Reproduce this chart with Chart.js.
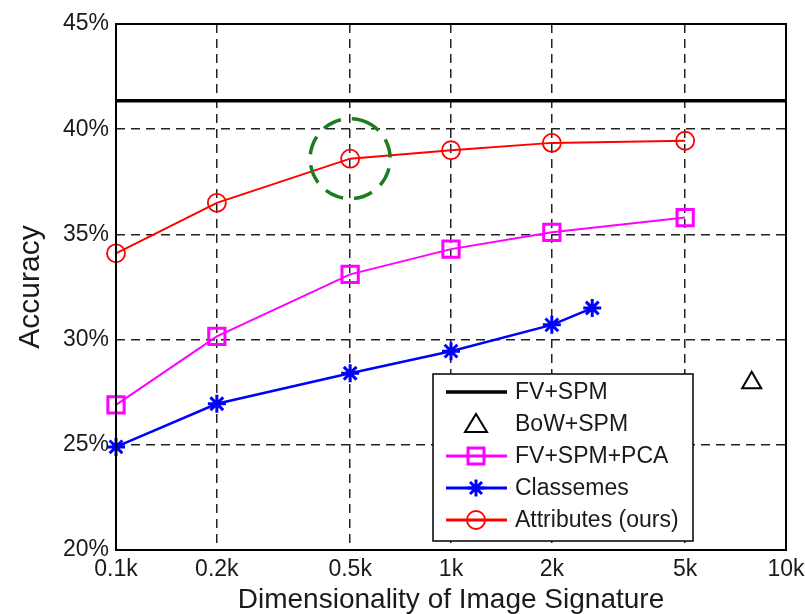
<!DOCTYPE html>
<html>
<head>
<meta charset="utf-8">
<script src="https://cdn.jsdelivr.net/npm/chart.js@4.4.1/dist/chart.umd.min.js"></script>
<style>
  body { margin: 0; background: #fff; }
  canvas { display: block; }
</style>
</head>
<body>
<canvas id="acc_chart" width="805" height="614"></canvas>
<script>
// values
var xTicks = [100, 200, 500, 1000, 2000, 5000, 10000];
var xTickLabels = ['0.1k', '0.2k', '0.5k', '1k', '2k', '5k', '10k'];
var yTicks = [20, 25, 30, 35, 40, 45];

var dims = [100, 200, 500, 1000, 2000, 5000];
var attributes = [34.1, 36.5, 38.6, 39.0, 39.35, 39.45];
var fvSpmPca = [26.9, 30.15, 33.1, 34.3, 35.1, 35.8];

var classemesDims = [100, 200, 500, 1000, 2000, 2640];
var classemes = [24.9, 26.95, 28.4, 29.45, 30.7, 31.5];

var fvSpmDims = [100, 10000];
var fvSpm = [41.35, 41.35];

var bowSpmDims = [7900];
var bowSpm = [27.95];

var highlightDim = 500;
var highlightAcc = 38.6;

var seriesLabels = ['FV+SPM', 'BoW+SPM', 'FV+SPM+PCA', 'Classemes', 'Attributes (ours)'];

var FONT = "'Liberation Sans', Arial, sans-serif";

function pts(xs, ys){
    var out = [];
    for(var i = 0; i < xs.length; i++){
        out.push({x: xs[i], y: ys[i]});
    }
    return out;
}

// little marker painter for the legend
function drawMarker(ctx, style, x, y, color){
    ctx.save();
    ctx.strokeStyle = color;
    ctx.beginPath();
    if(style == 'circle'){
        ctx.lineWidth = 1.8;
        ctx.arc(x, y, 9, 0, Math.PI * 2);
    } else if(style == 'rect'){
        ctx.lineWidth = 3;
        ctx.rect(x - 8, y - 8, 16, 16);
    } else if(style == 'star'){
        ctx.lineWidth = 3;
        var r = 8.5;
        ctx.moveTo(x, y - r); ctx.lineTo(x, y + r);
        ctx.moveTo(x - r, y); ctx.lineTo(x + r, y);
        var d = r * 0.707;
        ctx.moveTo(x - d, y - d); ctx.lineTo(x + d, y + d);
        ctx.moveTo(x - d, y + d); ctx.lineTo(x + d, y - d);
    } else if(style == 'triangle'){
        ctx.lineWidth = 2;
        ctx.moveTo(x, y - 10);
        ctx.lineTo(x + 11, y + 8);
        ctx.lineTo(x - 11, y + 8);
        ctx.closePath();
    }
    ctx.stroke();
    ctx.restore();
}

var framePlugin = {
    id: 'frame',
    afterDatasetsDraw: function(chart){
        var ctx = chart.ctx;
        var a = chart.chartArea;
        var xs = chart.scales.x, ys = chart.scales.y;

        // box round the plot
        ctx.save();
        ctx.strokeStyle = '#000';
        ctx.lineWidth = 2;
        ctx.strokeRect(a.left, a.top, a.right - a.left, a.bottom - a.top);
        ctx.restore();

        // dashed green ring on the 0.5k point
        var cx = xs.getPixelForValue(highlightDim);
        var cy = ys.getPixelForValue(highlightAcc);
        ctx.save();
        ctx.strokeStyle = '#1b7d1b';
        ctx.lineWidth = 3.5;
        ctx.setLineDash([19, 11]);
        ctx.beginPath();
        ctx.arc(cx, cy, 40, -Math.PI * 0.4, Math.PI * 1.6);
        ctx.stroke();
        ctx.restore();

        // legend box
        var lx = a.right - 353, ly = a.bottom - 176, lw = 260, lh = 167;
        ctx.save();
        ctx.fillStyle = '#fff';
        ctx.fillRect(lx, ly, lw, lh);
        ctx.strokeStyle = '#000';
        ctx.lineWidth = 1.5;
        ctx.strokeRect(lx, ly, lw, lh);
        var markers = [null, 'triangle', 'rect', 'star', 'circle'];
        var colors = ['#000', '#000', '#ff00ff', '#0000ff', '#ff0000'];
        var lines = [true, false, true, true, true];
        ctx.font = '23px ' + FONT;
        ctx.textBaseline = 'middle';
        ctx.textAlign = 'left';
        for(var i = 0; i < seriesLabels.length; i++){
            var ry = ly + 18 + i * 32;
            if(lines[i]){
                ctx.strokeStyle = colors[i];
                ctx.lineWidth = i == 0 ? 3.5 : 3;
                ctx.beginPath();
                ctx.moveTo(lx + 13, ry);
                ctx.lineTo(lx + 74, ry);
                ctx.stroke();
            }
            if(markers[i]){
                drawMarker(ctx, markers[i], lx + 43, ry, colors[i]);
            }
            ctx.fillStyle = '#1a1a1a';
            ctx.fillText(seriesLabels[i], lx + 82, ry + 1);
        }
        ctx.restore();
    }
};

var ctx = document.getElementById('acc_chart');

var acc_chart = new Chart(ctx, {
    type: 'line',
    data: {
        datasets: [
            {
                label: seriesLabels[0],
                data: pts(fvSpmDims, fvSpm),
                borderColor: '#000',
                borderWidth: 3.5,
                pointRadius: 0
            },
            {
                label: seriesLabels[1],
                data: pts(bowSpmDims, bowSpm),
                showLine: false,
                pointStyle: 'triangle',
                pointRadius: 11,
                borderColor: '#000',
                backgroundColor: 'rgba(0,0,0,0)',
                borderWidth: 2
            },
            {
                label: seriesLabels[2],
                data: pts(dims, fvSpmPca),
                borderColor: '#ff00ff',
                borderWidth: 2,
                pointStyle: 'rect',
                pointRadius: 11.5,
                pointBorderWidth: 3,
                backgroundColor: 'rgba(0,0,0,0)'
            },
            {
                label: seriesLabels[3],
                data: pts(classemesDims, classemes),
                borderColor: '#0000ff',
                borderWidth: 2.5,
                pointStyle: 'star',
                pointRadius: 9,
                pointBorderWidth: 3,
                backgroundColor: 'rgba(0,0,0,0)'
            },
            {
                label: seriesLabels[4],
                data: pts(dims, attributes),
                borderColor: '#ff0000',
                borderWidth: 2,
                pointStyle: 'circle',
                pointRadius: 9,
                pointBorderWidth: 1.8,
                backgroundColor: 'rgba(0,0,0,0)'
            }
        ]
    },
    options: {
        responsive: false,
        animation: false,
        clip: false,
        layout: { padding: { top: 24, right: 19, left: 0, bottom: 0 } },
        plugins: {
            legend: { display: false },
            tooltip: { enabled: false }
        },
        elements: { line: { tension: 0 } },
        scales: {
            x: {
                type: 'logarithmic',
                min: 100,
                max: 10000,
                afterBuildTicks: function(scale){
                    scale.ticks = xTicks.map(function(v){ return {value: v}; });
                },
                afterFit: function(scale){
                    scale.height = 64;
                    scale.paddingLeft = 0;
                    scale.paddingRight = 0;
                },
                ticks: {
                    autoSkip: false,
                    maxRotation: 0,
                    padding: 6,
                    color: '#1a1a1a',
                    font: { family: FONT, size: 23 },
                    callback: function(value){
                        var i = xTicks.indexOf(value);
                        return i >= 0 ? xTickLabels[i] : '';
                    }
                },
                grid: { color: '#222', lineWidth: 1.5, drawTicks: false },
                border: { display: false, dash: [9, 6] },
                title: {
                    display: true,
                    text: 'Dimensionality of Image Signature',
                    color: '#1a1a1a',
                    font: { family: FONT, size: 28, lineHeight: 1 },
                    padding: { top: 0, bottom: 0 }
                }
            },
            y: {
                type: 'linear',
                min: 20,
                max: 45,
                afterBuildTicks: function(scale){
                    scale.ticks = yTicks.map(function(v){ return {value: v}; });
                },
                afterFit: function(scale){
                    scale.width = 116;
                    scale.paddingTop = 0;
                    scale.paddingBottom = 0;
                },
                ticks: {
                    padding: 7,
                    color: '#1a1a1a',
                    font: { family: FONT, size: 23 },
                    callback: function(value){ return value + '%'; }
                },
                grid: { color: '#222', lineWidth: 1.5, drawTicks: false },
                border: { display: false, dash: [9, 6] },
                title: {
                    display: true,
                    text: 'Accuracy',
                    color: '#1a1a1a',
                    font: { family: FONT, size: 30, lineHeight: 1 },
                    padding: { top: 16, bottom: 0 }
                }
            }
        }
    },
    plugins: [framePlugin]
});
</script>
</body>
</html>
